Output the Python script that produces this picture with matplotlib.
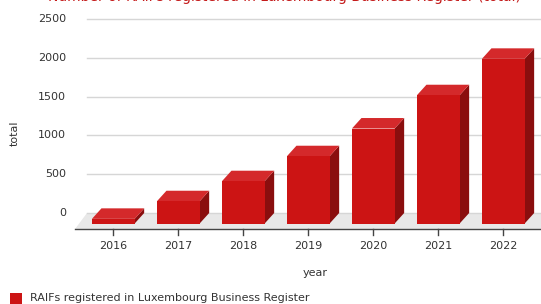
import matplotlib
matplotlib.use('Agg')
import matplotlib.pyplot as plt
from matplotlib.patches import Polygon, Rectangle

# ---- data ----
years = ['2016', '2017', '2018', '2019', '2020', '2021', '2022']
raifs = [60, 287, 545, 867, 1224, 1653, 2122]
yticks = [0, 500, 1000, 1500, 2000, 2500]
series_name = 'RAIFs registered in Luxembourg Business Register'
title = 'Number of RAIFs registered in Luxembourg Business Register (total)'

FRONT = '#cc1414'
TOP = '#d4292b'
SIDE = '#8a0e0e'
TXT = '#333333'

W, H = 541, 304
fig = plt.figure(figsize=(W / 100, H / 100), dpi=100)
L, R, B, T = 87, 541, H - 213, H - 19
ax = fig.add_axes([L / W, B / H, (R - L) / W, (T - B) / H])
xmin, xmax = -0.551, 6.434
ax.set_xlim(xmin, xmax)
ax.set_ylim(0, 2500)
ax.axis('off')

ppx = (R - L) / (xmax - xmin)
ppy = (T - B) / 2500.0


def off(dxp, dyp):
    """pixel offset (right, up) -> data units"""
    return dxp / ppx, dyp / ppy


# floor
fx, fy = off(-12, -16)
floor = Polygon([(xmin, 0), (xmax + 1, 0), (xmax + 1 + fx, fy), (xmin + fx, fy)],
                closed=True, facecolor='#e8e8e8', edgecolor='none', zorder=0, clip_on=False)
ax.add_patch(floor)

# gridlines (back wall)
for v in yticks:
    ax.plot([xmin, xmax + 1], [v, v], color='#d6d6d6', lw=1, zorder=1, clip_on=False)
    lx, _ = off(-21, 0)
    ax.text(xmin + lx, v, str(v), ha='right', va='center', fontsize=8, color=TXT, clip_on=False)

# x axis line at the front of the floor
ax.plot([xmin + fx, xmax + 1], [fy, fy], color='#444444', lw=1, zorder=2, clip_on=False)

# bars
ox, oy = off(-9.5, -10.5)
bw = 0.657
for i, v in enumerate(raifs):
    xl, xr = i - bw / 2, i + bw / 2
    # side face (right)
    side = Polygon([(xr + ox, oy), (xr + ox, v + oy), (xr, v), (xr, 0)], closed=True,
                   facecolor=SIDE, edgecolor='none', zorder=3, clip_on=False)
    ax.add_patch(side)
    # top face
    top = Polygon([(xl + ox, v + oy), (xr + ox, v + oy), (xr, v), (xl, v)], closed=True,
                  facecolor=TOP, edgecolor='none', zorder=3, clip_on=False)
    ax.add_patch(top)
    # front face
    ax.add_patch(Rectangle((xl + ox, oy), bw, v, facecolor=FRONT, edgecolor='none',
                           zorder=4, clip_on=False))

# x ticks and labels at the front
tlen = off(0, -6)[1]
lab_dy = off(0, -16.7)[1]
for i, yr in enumerate(years):
    ax.plot([i + ox, i + ox], [fy, fy + tlen], color='#444444', lw=1, zorder=2, clip_on=False)
    ax.text(i + ox, fy + lab_dy, yr, ha='center', va='center', fontsize=8, color=TXT, clip_on=False)

# axis titles
fig.text(315 / W, 1 - 273 / H, 'year', ha='center', va='center', fontsize=8, color=TXT)
fig.text(15 / W, 1 - 133 / H, 'total', ha='center', va='center', fontsize=8, color=TXT, rotation=90)

# legend
fig.patches.append(Rectangle((10 / W, 1 - 304 / H), 12 / W, 11 / H, transform=fig.transFigure,
                             facecolor=FRONT, edgecolor='none'))
fig.text(30 / W, 1 - 298 / H, series_name, ha='left', va='center', fontsize=8, color=TXT)

# title (cut off at the top of the picture)
fig.text(284 / W, 1 - 1.5 / H, title, ha='center', va='baseline', fontsize=10,
         color='#c41a1a')

fig.savefig('out.png', dpi=100)
